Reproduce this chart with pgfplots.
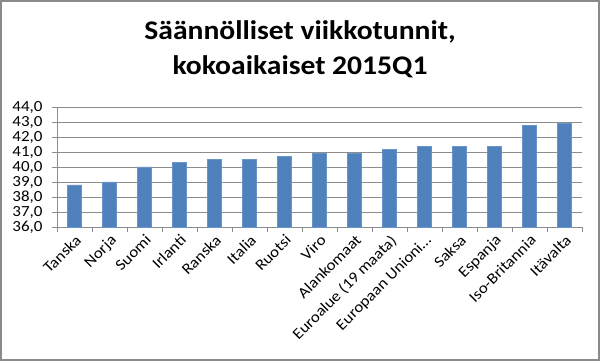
\documentclass[border=0pt]{standalone}
\usepackage{fontspec}
\setmainfont{Carlito}[FakeStretch=1.1]
\usepackage{pgfplots}
\pgfplotsset{compat=1.18}
\definecolor{barblue}{HTML}{4F81BD}
\definecolor{gridgray}{HTML}{8C8C8C}
\definecolor{framegray}{HTML}{8A8A8A}
\begin{document}
\begin{tikzpicture}
\useasboundingbox (0,0) rectangle (600bp,361bp);
\draw[framegray, line width=2bp] (1bp,1bp) rectangle (599bp,360bp);
\node[font=\fontsize{27}{35}\selectfont\bfseries, anchor=base, inner sep=0pt] at (300bp,321bp) {Säännölliset viikkotunnit,};
\node[font=\fontsize{27}{35}\selectfont\bfseries, anchor=base, inner sep=0pt] at (300bp,286bp) {kokoaikaiset 2015Q1};
\begin{axis}[
  at={(57bp,134bp)}, anchor=south west,
  scale only axis, width=525bp, height=120bp,
  ymin=36, ymax=44, ytick={36,37,...,44},
  xmin=-0.5, xmax=14.5,
  xtick={0,1,...,14},
  xticklabels={Tanska,Norja,Suomi,Irlanti,Ranska,Italia,Ruotsi,Viro,Alankomaat,Euroalue (19 maata),Europaan Unioni…,Saksa,Espanja,Iso-Britannia,Itävalta},
  minor xtick={-0.5,0.5,...,14.5},
  axis x line*=bottom, axis y line*=left,
  axis line style={gridgray, line width=0.75bp, -},
  tick align=outside,
  major tick length=5bp, minor tick length=5bp,
  x tick style={draw=none}, minor x tick style={draw=gridgray, line width=0.75bp},
  y tick style={draw=gridgray, line width=0.75bp},
  ymajorgrids, grid style={gridgray, line width=0.75bp},
  ticklabel style={font=\fontsize{15.5}{18}\selectfont},
  xticklabel style={rotate=45, anchor=north east, inner sep=1bp},
  yticklabel style={xshift=-6bp, /pgf/number format/.cd, fixed, fixed zerofill, precision=1, use comma, assume math mode=true},
  ybar, bar width=14bp,
  clip=false,
]
\addplot[fill=barblue, draw=barblue!85!white, line width=0.5bp] coordinates {
  (0,38.8) (1,39.0) (2,40.0) (3,40.3) (4,40.5) (5,40.5) (6,40.7) (7,40.9)
  (8,40.9) (9,41.2) (10,41.4) (11,41.4) (12,41.4) (13,42.8) (14,42.9)
};
\end{axis}
\end{tikzpicture}
\end{document}
